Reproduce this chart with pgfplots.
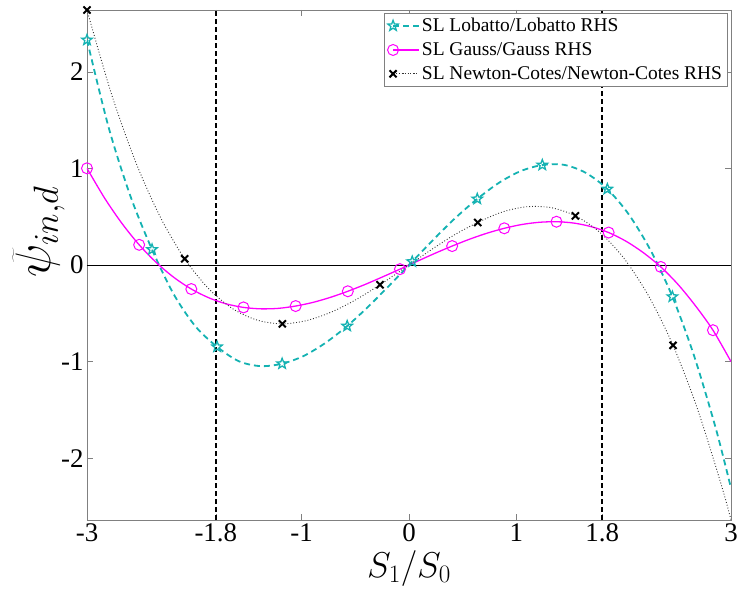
\RequirePackage{fix-cm}
\documentclass[border=0pt]{standalone}
\usepackage{fontspec}
\setmainfont{Liberation Serif}
\usepackage{pgfplots}
\pgfplotsset{compat=1.18}
\usetikzlibrary{plotmarks}
\definecolor{lob}{RGB}{20,178,178}
\definecolor{gau}{RGB}{255,0,255}
\definecolor{axgray}{RGB}{128,128,128}
\pgfdeclareplotmark{pentagram}{%
  \pgfpathmoveto{\pgfpointpolar{90}{\pgfplotmarksize}}%
  \pgfpathlineto{\pgfpointpolar{126}{0.42\pgfplotmarksize}}%
  \pgfpathlineto{\pgfpointpolar{162}{\pgfplotmarksize}}%
  \pgfpathlineto{\pgfpointpolar{198}{0.42\pgfplotmarksize}}%
  \pgfpathlineto{\pgfpointpolar{234}{\pgfplotmarksize}}%
  \pgfpathlineto{\pgfpointpolar{270}{0.42\pgfplotmarksize}}%
  \pgfpathlineto{\pgfpointpolar{306}{\pgfplotmarksize}}%
  \pgfpathlineto{\pgfpointpolar{342}{0.42\pgfplotmarksize}}%
  \pgfpathlineto{\pgfpointpolar{18}{\pgfplotmarksize}}%
  \pgfpathlineto{\pgfpointpolar{54}{0.42\pgfplotmarksize}}%
  \pgfpathclose
  \pgfusepathqstroke}
\begin{document}
\begin{tikzpicture}
\begin{axis}[
  scale only axis,
  width=644bp, height=510bp,
  xmin=-3, xmax=3, ymin=-2.64, ymax=2.64,
  xtick={-3,-1.8,-1,0,1,1.8,3},
  xticklabels={-3,-1.8,-1,0,1,1.8,3},
  ytick={-2,-1,0,1,2},
  yticklabels={-2,-1,0,1,2},
  tick align=inside,
  major tick length=6bp,
  tick style={axgray, line width=0.6pt},
  axis line style={axgray, line width=0.8pt},
  ticklabel style={font=\fontsize{27}{30}\selectfont},
  every axis x label/.style={at={(axis description cs:0.5,-0.095)}, anchor=center},
  every axis y label/.style={at={(axis description cs:-0.075,0.565)}, rotate=90, anchor=center},
  xlabel={\fontsize{36}{40}\selectfont $S_1/S_0$},
  ylabel={\fontsize{50}{56}\selectfont $\widetilde{\psi}_{in,d}$},
  legend style={at={(axis description cs:0.995,0.995)}, anchor=north east,
    draw=axgray, line width=0.6pt, font=\fontsize{19.5}{21}\selectfont,
    row sep=5.5bp, inner sep=3.5bp},
  legend cell align=left,
  legend image code/.code={%
    \draw[mark repeat=2,mark phase=2,#1] plot coordinates {(0bp,0bp) (13bp,0bp) (26bp,0bp)};},
]
\addplot[forget plot, black, line width=0.7pt] coordinates {(-3,0) (3,0)};
\addplot[forget plot, black, line width=1.6pt, dash pattern=on 5bp off 3bp] coordinates {(-1.8,-2.64) (-1.8,2.64)};
\addplot[forget plot, black, line width=1.6pt, dash pattern=on 5bp off 3bp] coordinates {(1.8,-2.64) (1.8,2.64)};
% Lobatto
\addplot[lob, line width=1.8pt, dash pattern=on 6bp off 4bp, smooth,
  mark=pentagram, mark size=5.5bp, mark options={solid, line width=1.3pt},
  mark indices={1,4,7,10,13,16,19,22,25,28}] coordinates {
(-3.000,2.330) (-2.798,1.423) (-2.596,0.715) (-2.394,0.160) (-2.192,-0.303)
(-1.990,-0.635) (-1.788,-0.847) (-1.586,-0.996) (-1.384,-1.047) (-1.182,-1.022)
(-0.980,-0.941) (-0.778,-0.806) (-0.576,-0.632) (-0.374,-0.425) (-0.172,-0.199)
(0.030,0.035) (0.232,0.268) (0.434,0.489) (0.636,0.684) (0.838,0.851)
(1.040,0.972) (1.242,1.035) (1.444,1.037) (1.646,0.955) (1.848,0.786)
(2.050,0.520) (2.252,0.150) (2.454,-0.328) (2.656,-0.940) (2.858,-1.690)
(3.000,-2.310)};
\addlegendentry{SL Lobatto/Lobatto RHS}
% Gauss
\addplot[gau, line width=1.3pt, smooth,
  mark=o, mark size=5.5bp, mark options={solid, line width=1pt},
  mark indices={1,4,7,10,13,16,19,22,25,28,31,34,37}] coordinates {
(-3.000,1.001) (-2.838,0.696) (-2.676,0.433) (-2.514,0.209) (-2.352,0.023)
(-2.190,-0.129) (-2.028,-0.249) (-1.866,-0.339) (-1.704,-0.402) (-1.542,-0.439)
(-1.380,-0.454) (-1.218,-0.449) (-1.056,-0.425) (-0.894,-0.387) (-0.732,-0.335)
(-0.570,-0.272) (-0.408,-0.201) (-0.246,-0.123) (-0.084,-0.043) (0.078,0.039)
(0.240,0.120) (0.402,0.196) (0.564,0.267) (0.726,0.329) (0.888,0.380)
(1.050,0.419) (1.212,0.442) (1.374,0.448) (1.536,0.434) (1.698,0.397)
(1.860,0.336) (2.022,0.246) (2.184,0.127) (2.346,-0.020) (2.508,-0.203)
(2.670,-0.424) (2.832,-0.675) (3.000,-1.000)};
\addlegendentry{SL Gauss/Gauss RHS}
% Newton-Cotes
\addplot[black!80, line width=0.9pt, dotted, smooth,
  mark=x, mark size=5bp, mark options={solid, black, line width=2pt},
  mark indices={1,5,9,13,17,21,25}] coordinates {
(-3.000,2.640) (-2.7725,1.772) (-2.545,1.062) (-2.3175,0.497) (-2.090,0.064)
(-1.8625,-0.250) (-1.635,-0.458) (-1.4075,-0.573) (-1.180,-0.609) (-0.9525,-0.575)
(-0.725,-0.488) (-0.4975,-0.361) (-0.270,-0.204) (-0.0425,-0.033) (0.185,0.141)
(0.4125,0.305) (0.640,0.440) (0.8675,0.548) (1.095,0.603) (1.3225,0.594)
(1.550,0.509) (1.7775,0.339) (2.005,0.066) (2.2325,-0.321) (2.460,-0.832)
(2.6875,-1.489) (2.915,-2.296) (3.000,-2.640)};
\addlegendentry{SL Newton-Cotes/Newton-Cotes RHS}
\end{axis}
\pgfresetboundingbox
\path (-87bp,-69bp) rectangle (651bp,520bp);
\end{tikzpicture}
\end{document}
